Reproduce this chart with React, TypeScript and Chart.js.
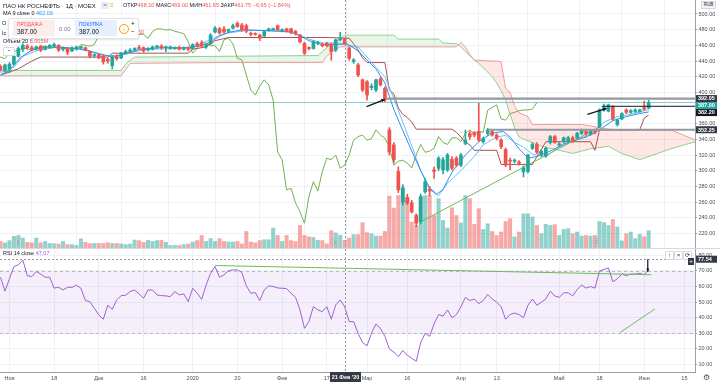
import React, { useEffect, useRef } from "react";
import { Chart, registerables } from "chart.js";

Chart.register(...registerables);

const FONT = "'Liberation Sans', Arial, sans-serif";

// Daily bars, index 0 = 30 Oct 2019 ... index 145 = 2 Jun 2020
const OPEN = [433,428,430,436,446,455,459,457,455,459, 455,458,459,460,455,456,453,455,457,457, 452,447,448,446,442,434,446,444,450,452, 454,457,457,454,455,458,459,457,456,456, 457,455,457,456,462,463,458,462,477,481, 481,478,482,488,486,485,475,475,473,472, 479,480,485,479,481,481,478,473,462.5,457, 456,462,461.5,462.5,461,454,467,468.1,456,439.5, 435,416,413.5,406,403,417,405,352,333,299, 260,266,259,243,235,273,276,301,303,301, 301,314.5,316,307,335,347.5,348.5,350,337,347.5, 350,345.5,339,327,313.5,312,311,298.5,299,328.5, 333.5,320,319,336,343.5,333,337,337.5,342,342, 347.5,350,346.5,350.5,356,377.5,376,381.5,359,366, 377.5,374.5,375.5,375.5,380.5,380];
const HIGH = [435,436,438,448,458,462,461,459,459,460, 459,461,463,461,458,457,458,459,459,458, 453,449,449,448,444,447,448,451,454,456, 457,460,458,457,459,460,461,459,459,458, 459,458,458,462,464,466,462,475,484,483, 484,481,487,490,488,487,477,476,474,478, 482,482,486,481,482,482,479,474,464,458, 466,465,463,464,463,468,476.5,469,458,443, 437,417,415,411,417,419,407,355,336,305, 282,270,262,245,270,290,280,305,318,317, 322,318,318,322,352,350,350,386,343,354, 352,347,341,329,316,315,313,306,321,336, 336,327,330,345,345,336,343,344,344,349, 353,352,352,352,379,385,385,383,366,374, 379,378,379,378.5,389,390];
const LOW = [427,426,425,435,445,452,455,453,454,452, 454,456,457,452,453,448,452,454,455,453, 444,444,443,436,437,430,441,443,449,451, 453,455,451,453,454,456,455,452,455,455, 454,454,453,455,458,457,456,461,476,474, 476,476,481,483,478,476,472,473,466,471, 478,479,479,477,477,475,473,463,448,454, 455,461,458,458,441,452,466,461.65,441,437, 420,401,390,403,401,408,388,320,310,272, 256,257,246,228.5,232,271,268,290,300,296, 299,301,305,305,333,340,343,337,335,345, 344,339,328,305,301,310,307,292,297,327, 322,318,317,334,335,331,335,336,336,341, 346,345,345,347,355,376,375,364,357,365, 373,373,374,374.5,377,379];
const CLOSE = [429,435,436,446,456,460,457,455,458,454, 458,460,461,454,456,451,456,458,457.5,454, 446,447.5,444,439,440,445,443,450,452,454, 456,456,453,456,458,459,457,457.5,458,457, 455,457,455,461,460,459,461,473,482,476, 477,480,485,484,479.5,478,474,474,469,477.5, 481,481,479.5,480,478,476.5,475,464.5,450,456, 464.5,463,459.5,459.5,452,467,469,461.75,443.5,441.5, 422,403,396.5,408,416,409.5,390,324,314,275.5, 277.5,259,247.5,233,267,286,274,299,316,314, 320,303,307,320,339,343.5,345.5,339,341,352, 345.5,341.5,330.5,307,312,313.5,309.5,303.5,320,333.5, 323.5,325,328.5,343.5,336,333.5,342,342,337,347.5, 352,347,350.5,349,377.5,380.5,384,366,364.5,373, 374.5,376.5,377.5,377.5,378.5,387];
// Volume, millions of shares
const VOLUME = [2.3,1.8,2.6,4.1,4.4,3.5,2.0,1.8,3.5,1.8, 2.3,1.6,1.5,1.4,2.3,1.2,1.2,0.9,3.2,2.0, 1.5,1.6,1.6,1.6,1.9,1.6,1.6,1.4,1.2,1.4, 2.8,2.6,2.0,2.7,2.3,2.6,2.7,2.0,0.9,0.9, 0.9,1.2,1.4,2.1,2.6,4.4,2.3,3.3,2.3,3.3, 2.3,2.1,2.1,2.3,1.4,5.8,2.1,1.8,2.6,2.9, 2.9,7.0,4.4,2.3,4.4,2.6,2.3,7.9,4.4,3.9, 3.7,2.7,2.6,1.5,6.1,5.3,4.5,2.7,3.5,4.7, 4.7,8.9,5.4,5.0,4.2,4.2,5.8,18.2,14.0,18.4, 21.4,17.3,9.1,7.9,17.9,18.4,18.4,11.4,17.3,9.7, 7.0,14.1,11.4,8.8,18.4,17.3,8.3,13.8,6.5,8.5, 5.8,4.4,5.6,9.3,10.3,3.9,5.6,12.0,12.0,10.9, 7.9,5.0,8.3,7.9,8.2,4.4,6.5,6.8,5.0,5.6, 4.2,4.4,4.2,4.4,9.3,8.9,7.9,10.0,7.4,2.5, 5.0,5.6,3.3,4.8,3.9,6.1];
// RSI 14
const RSI = [66,57,65,72.8,74,77,67,66.4,69.6,68, 66,66,59,59.5,57.8,59.5,59.5,60.8,58.9,51, 50.3,46,41.8,39,48,45.4,51.4,54.2,54.4,56.8, 57.8,55.3,52.5,57.8,57.8,54.6,54.2,54,53.5,56.8, 54.6,55.3,50.3,58.9,55.7,51.8,61,68.5,72.8,66, 67.5,70.2,70.7,70.7,69,60.4,55.7,56.1,51,57.8, 60.4,60,59.1,58.9,58.7,55.7,53.1,45,33.2,37.5, 47.1,45,43.9,47.1,39,48.2,51.4,47.07,37.5,37.5, 30,24,22,30,36,33,28,20,18,15, 19,16,14,12,24,30,28,36,42,41, 45,40,42,47,53,51,52,49,51,55, 52,50,47,39,42,43,42,40,48,52, 48,50,52,57,54,53,56,56,54,58, 61,59,60,59,70,71,72,63,65,68, 67,68,68,68.5,67.5,71];

// Indicator lines: [bar index, price]
const MA9 = [[0,422],[2,428],[4.4,444],[7.3,455],[11,458],[15,457],[18.5,455],[22.3,449],[25.2,445],[28.3,450],[31.2,455],[35.7,457],[41.7,457],[44.6,459],[46.9,464],[49.1,472],[51.3,477],[54.3,480],[58,479],[62,478],[65,477],[67,472],[69,466],[72,461],[75,461],[77.5,462],[80,453],[82,441],[84,430],[86,412],[88,378],[91,338],[94,300],[96,278],[97.6,270],[99,276],[101,298],[104,320],[107,337],[110,348],[112.5,350],[114,343],[116,328],[118,316],[120,318],[123,325],[126,334],[131,343],[134,352],[137,364],[140,369],[143,373],[145,375]];
const TENKAN = [[0,425],[3,432],[5,446],[8,453],[12,457],[17,456],[20,452],[23,447],[27,447],[30,452],[33,455],[40,456],[44,459],[46,465],[48,470],[50,475],[55,479],[60,479],[64,478],[67,473],[69,468],[72,463],[76,463],[78,460],[80,458],[82,445],[84,432],[86,420],[88,392],[90,362],[92,332],[94,300],[96,276],[98,268],[100,284],[103,300],[106,318],[108,333],[111,343],[113,345],[115,336],[117,330],[119,321],[122,318],[125,330],[129,340],[133,348],[135,362],[138,369],[141,372],[145,378]];
const KIJUN = [[0,422],[4,430],[7,440],[9,445],[24,445],[25,450],[42,450],[43,455],[46,458],[48,466],[51,470],[73,470],[78,469],[79,462],[80,454],[81,444],[82,438],[86,438],[87,403],[88,398],[89,380],[90,372],[91,368],[92,362],[93,353],[101,353],[102,349],[103,343],[104,336],[105,333],[106,326],[111,326],[112,308],[119,308],[120,318],[121,327],[122,337],[132,337],[133,326],[134,352],[143,352],[144,367],[145,371]];
const CLOUD_X = [0,27,28,29,30,50,71,72,73,74,75,76,77,88,89,98,99,102,103,104,105,106,107,110,111,112,113,114,115,116,118,119,121,125,128,130,132,136,139,141,143,146,150,153,155.5];
const SENKOU_A = [428,428,436,441,445,446,447,452,457,462,465,468,473,473,468,468,463,462,458,452,447,441,437,420,412,402,390,372,355,343,338,336,331,326,322,325,328,331,322,318,314,320,328,333,337];
const SENKOU_B = [421,421,429,437,437,438,438,438,446,451,455,458,458,458,458,458,458,458,464,458,448,441,441,440,440,439,405,400,383,374,369,359,359,359,359,359,357,353,352,352,352,352,352,345,339];
const CHIKOU_SHIFT = 25;

// Drawings
const LAST_PRICE = 387.0;
const LEVEL_VALUES = [392.05, 382.2, 352.25];
const LEVEL_FROM = [86.5, 134.5, 109];
const AXIS_LABELS = [392.05, 387.0, 382.2, 352.25];
const PRICE_ARROWS = [[81.9, 381.7, 86, 391.1], [131.3, 371.9, 135.6, 379.5]];
const PRICE_TREND = [[93.9, 234.5], [134, 355.7]];
const RSI_TREND_DOWN = [[48, 73.5], [145.6, 67.6]];
const RSI_TREND_UP = [[138.6, 30.5], [146.4, 45.6]];
const RSI_ARROW = [144.8, 77.5, 144.8, 69.5];
const RSI_BAND = [30, 70];
const EVENT_BARS = [4, 75, 133.4];
const CROSS_IDX = 77;
const CROSS_RSI = 77.54;
const CROSS_DATE = "21 Фев '20";

const TICK_IDX = [2, 12, 22, 32, 43, 53, 63, 73, 82, 91, 103, 111, 125, 134, 144, 153];
const TICK_LABELS = ["Ноя", "18", "Дек", "16", "2020", "20", "Фев", "17", "Мар", "16", "Апр", "13", "Май", "18", "Июн", "15"];
const PRICE_TICKS = [220, 240, 260, 280, 300, 320, 340, 360, 400, 420, 440, 460, 480, 500];
const RSI_TICKS = [10, 20, 30, 40, 50, 60, 70, 80];

const X_MIN = -0.11;
const X_MAX = 155.37;
const P_MIN = 201.3;
const P_MAX = 517.87;
const R_MIN = 5.15;
const R_MAX = 84.1;
const VOL_MAX = 87;

const UP = "#26a69a";
const DN = "#ef5350";
const GRID = "#eef1f6";
const AXIS = "#9aa0ab";
const TXT = "#4a4e59";

const pts = (arr: number[][]) => arr.map(([x, y]) => ({ x, y }));

function arrow(ctx: CanvasRenderingContext2D, x1: number, y1: number, x2: number, y2: number, head: number) {
  const ang = Math.atan2(y2 - y1, x2 - x1);
  ctx.beginPath();
  ctx.moveTo(x1, y1);
  ctx.lineTo(x2, y2);
  ctx.stroke();
  ctx.beginPath();
  ctx.moveTo(x2, y2);
  ctx.lineTo(x2 - head * Math.cos(ang - 0.45), y2 - head * Math.sin(ang - 0.45));
  ctx.lineTo(x2 - head * Math.cos(ang + 0.45), y2 - head * Math.sin(ang + 0.45));
  ctx.closePath();
  ctx.fill();
}

function axisBox(ctx: CanvasRenderingContext2D, left: number, yc: number, text: string, bg: string) {
  ctx.fillStyle = bg;
  ctx.fillRect(left + 1, yc - 3.5, 21, 7);
  ctx.fillStyle = "#ffffff";
  ctx.font = `bold 5.5px ${FONT}`;
  ctx.textAlign = "left";
  ctx.textBaseline = "middle";
  ctx.fillText(text, left + 3, yc + 0.3);
}

const xTicksHook = (s: any) => {
  s.ticks = TICK_IDX.map((v) => ({ value: v }));
};

export default function App() {
  const priceRef = useRef<HTMLCanvasElement>(null);
  const rsiRef = useRef<HTMLCanvasElement>(null);

  useEffect(() => {
    const candleColors = CLOSE.map((c, i) => (c >= OPEN[i] ? UP : DN));
    const volColors = CLOSE.map((c, i) => (c >= OPEN[i] ? "rgba(38,166,154,0.5)" : "rgba(239,83,80,0.5)"));

    const priceOverlay = {
      id: "priceOverlay",
      afterDatasetsDraw(chart: any) {
        const { ctx, chartArea: a, scales } = chart;
        const x = scales.x, y = scales.y, vol = scales.vol;
        ctx.save();
        ctx.beginPath();
        ctx.rect(a.left, a.top, a.right - a.left, a.bottom - a.top);
        ctx.clip();
        const yc = y.getPixelForValue(LAST_PRICE);
        ctx.strokeStyle = "rgba(38,166,154,0.55)";
        ctx.lineWidth = 1;
        ctx.beginPath();
        ctx.moveTo(a.left, yc);
        ctx.lineTo(a.right, yc);
        ctx.stroke();
        const lvlStyle = [
          { c: "#9598a1", w: 2.2 },
          { c: "#131722", w: 1 },
          { c: "#9598a1", w: 2.2 },
        ];
        LEVEL_VALUES.forEach((v, i) => {
          const py = y.getPixelForValue(v);
          ctx.strokeStyle = lvlStyle[i].c;
          ctx.lineWidth = lvlStyle[i].w;
          ctx.beginPath();
          ctx.moveTo(x.getPixelForValue(LEVEL_FROM[i]), py);
          ctx.lineTo(a.right, py);
          ctx.stroke();
        });
        ctx.strokeStyle = "#131722";
        ctx.fillStyle = "#131722";
        ctx.lineWidth = 1.4;
        PRICE_ARROWS.forEach(([x1, y1, x2, y2]) => {
          arrow(ctx, x.getPixelForValue(x1), y.getPixelForValue(y1), x.getPixelForValue(x2), y.getPixelForValue(y2), 4);
        });
        ctx.strokeStyle = "#b8bcc6";
        ctx.lineWidth = 1;
        ctx.fillStyle = "#9aa0ab";
        ctx.font = `4.5px ${FONT}`;
        ctx.textAlign = "center";
        ctx.textBaseline = "middle";
        EVENT_BARS.forEach((b) => {
          const ex = x.getPixelForValue(b);
          const ey = vol.getPixelForValue(0) - 6;
          ctx.beginPath();
          ctx.arc(ex, ey, 4, 0, Math.PI * 2);
          ctx.stroke();
          ctx.fillText("E", ex, ey + 0.3);
        });
        ctx.strokeStyle = "#9598a1";
        ctx.lineWidth = 1;
        ctx.setLineDash([2, 2]);
        const cx = Math.round(x.getPixelForValue(CROSS_IDX)) + 0.5;
        ctx.beginPath();
        ctx.moveTo(cx, a.top);
        ctx.lineTo(cx, a.bottom);
        ctx.stroke();
        ctx.setLineDash([]);
        ctx.restore();
        ctx.save();
        const bgs = ["#363a45", UP, "#131722", "#363a45"];
        const ys = AXIS_LABELS.map((v) => y.getPixelForValue(v));
        for (let i = 1; i < ys.length; i++) if (ys[i] < ys[i - 1] + 7) ys[i] = ys[i - 1] + 7;
        AXIS_LABELS.forEach((v, i) => axisBox(ctx, a.right, ys[i], v.toFixed(2), bgs[i]));
        ctx.restore();
      },
    };

    const rsiOverlay = {
      id: "rsiOverlay",
      beforeDatasetsDraw(chart: any) {
        const { ctx, chartArea: a, scales } = chart;
        const y = scales.y;
        const yTop = y.getPixelForValue(RSI_BAND[1]);
        const yBot = y.getPixelForValue(RSI_BAND[0]);
        ctx.save();
        ctx.fillStyle = "rgba(156,96,214,0.10)";
        ctx.fillRect(a.left, yTop, a.right - a.left, yBot - yTop);
        ctx.strokeStyle = "#b4b8c2";
        ctx.lineWidth = 1;
        ctx.setLineDash([3, 3]);
        [yTop, yBot].forEach((py) => {
          ctx.beginPath();
          ctx.moveTo(a.left, Math.round(py) + 0.5);
          ctx.lineTo(a.right, Math.round(py) + 0.5);
          ctx.stroke();
        });
        ctx.restore();
      },
      afterDatasetsDraw(chart: any) {
        const { ctx, chartArea: a, scales } = chart;
        const x = scales.x, y = scales.y;
        ctx.save();
        ctx.beginPath();
        ctx.rect(a.left, a.top, a.right - a.left, a.bottom - a.top);
        ctx.clip();
        ctx.strokeStyle = "#9598a1";
        ctx.lineWidth = 1;
        ctx.setLineDash([2, 2]);
        const cx = Math.round(x.getPixelForValue(CROSS_IDX)) + 0.5;
        const cy = Math.round(y.getPixelForValue(CROSS_RSI)) + 0.5;
        ctx.beginPath();
        ctx.moveTo(cx, a.top);
        ctx.lineTo(cx, a.bottom);
        ctx.moveTo(a.left, cy);
        ctx.lineTo(a.right, cy);
        ctx.stroke();
        ctx.setLineDash([]);
        ctx.strokeStyle = "#131722";
        ctx.fillStyle = "#131722";
        ctx.lineWidth = 1.2;
        const [ax1, ay1, ax2, ay2] = RSI_ARROW;
        arrow(ctx, x.getPixelForValue(ax1), y.getPixelForValue(ay1), x.getPixelForValue(ax2), y.getPixelForValue(ay2), 3.5);
        ctx.restore();
        ctx.save();
        axisBox(ctx, a.right, y.getPixelForValue(CROSS_RSI), CROSS_RSI.toFixed(2), "#363a45");
        const w = 31;
        ctx.fillStyle = "#363a45";
        ctx.fillRect(cx - w / 2, a.bottom, w, 10);
        ctx.fillStyle = "#ffffff";
        ctx.font = `bold 5.5px ${FONT}`;
        ctx.textAlign = "center";
        ctx.textBaseline = "middle";
        ctx.fillText(CROSS_DATE, cx, a.bottom + 5.5);
        ctx.restore();
      },
    };

    const noPad = (s: any) => {
      s.paddingTop = 0;
      s.paddingBottom = 0;
      s.paddingLeft = 0;
      s.paddingRight = 0;
    };

    const yAxisCommon = (ticksArr: number[]) => ({
      type: "linear" as const,
      position: "right" as const,
      afterBuildTicks: (s: any) => {
        s.ticks = ticksArr.map((v) => ({ value: v }));
      },
      afterFit: (s: any) => {
        s.width = 25;
        noPad(s);
      },
      ticks: {
        callback: (v: any) => Number(v).toFixed(2),
        font: { size: 5.5, family: FONT },
        color: TXT,
        padding: 1.5,
        autoSkip: false,
      },
      grid: { color: GRID, tickLength: 2, tickColor: AXIS },
      border: { display: true, color: AXIS },
    });

    const lineDs = (data: any[], color: string, extra: any = {}) => ({
      type: "line" as const,
      data,
      borderColor: color,
      borderWidth: 1,
      pointRadius: 0,
      tension: 0,
      fill: false,
      yAxisID: "y",
      ...extra,
    });

    const priceChart = new Chart(priceRef.current as HTMLCanvasElement, {
      type: "bar",
      data: {
        datasets: [
          {
            type: "bar",
            yAxisID: "vol",
            data: VOLUME.map((v, i) => ({ x: i, y: v })),
            backgroundColor: volColors,
            barThickness: 3.4,
            grouped: false,
            order: 30,
          } as any,
          lineDs(CLOUD_X.map((x, i) => ({ x, y: SENKOU_B[i] })), "#f2a0a0", { order: 25 }),
          lineDs(CLOUD_X.map((x, i) => ({ x, y: SENKOU_A[i] })), "#8fd18f", {
            order: 24,
            fill: { target: 1, above: "rgba(76,175,80,0.13)", below: "rgba(244,67,54,0.13)" },
          }),
          lineDs(CLOSE.map((c, i) => ({ x: i - CHIKOU_SHIFT, y: c })), "#72b04d", { order: 20 }),
          lineDs(pts(KIJUN), "#a65252", { order: 19 }),
          lineDs(pts(TENKAN), "#6ec1f2", { order: 18 }),
          lineDs(pts(MA9), "#2f8ff0", { order: 17 }),
          lineDs(pts(PRICE_TREND), "#6dbb5a", { order: 16 }),
          {
            type: "bar",
            yAxisID: "y",
            data: CLOSE.map((_, i) => ({ x: i, y: [LOW[i], HIGH[i]] })),
            backgroundColor: candleColors,
            barThickness: 1,
            grouped: false,
            order: 2,
          } as any,
          {
            type: "bar",
            yAxisID: "y",
            data: CLOSE.map((c, i) => ({ x: i, y: [OPEN[i], c] })),
            backgroundColor: candleColors,
            barThickness: 3,
            minBarLength: 1,
            grouped: false,
            order: 1,
          } as any,
        ],
      },
      options: {
        responsive: false,
        animation: false,
        events: [],
        layout: { padding: 0 },
        plugins: { legend: { display: false }, tooltip: { enabled: false } },
        scales: {
          x: {
            type: "linear",
            min: X_MIN,
            max: X_MAX,
            offset: false,
            afterBuildTicks: xTicksHook,
            afterFit: (s: any) => {
              s.height = 0;
              noPad(s);
            },
            ticks: { display: false },
            grid: { color: GRID, drawTicks: false },
            border: { display: false },
          },
          y: { ...yAxisCommon(PRICE_TICKS), min: P_MIN, max: P_MAX },
          vol: { type: "linear", display: false, min: 0, max: VOL_MAX },
        },
      } as any,
      plugins: [priceOverlay],
    });

    const rsiChart = new Chart(rsiRef.current as HTMLCanvasElement, {
      type: "line",
      data: {
        datasets: [
          lineDs(RSI.map((v, i) => ({ x: i, y: v })), "#a05fd0", { order: 3 }),
          lineDs(pts(RSI_TREND_DOWN), "#6dbb5a", { order: 2 }),
          lineDs(pts(RSI_TREND_UP), "#6dbb5a", { order: 1 }),
        ],
      },
      options: {
        responsive: false,
        animation: false,
        events: [],
        layout: { padding: 0 },
        plugins: { legend: { display: false }, tooltip: { enabled: false } },
        scales: {
          x: {
            type: "linear",
            min: X_MIN,
            max: X_MAX,
            offset: false,
            afterBuildTicks: xTicksHook,
            afterFit: (s: any) => {
              s.height = 12;
              noPad(s);
            },
            ticks: {
              autoSkip: false,
              maxRotation: 0,
              padding: 3,
              font: { size: 5.5, family: FONT },
              color: TXT,
              callback: (v: any) => {
                const k = TICK_IDX.indexOf(Number(v));
                return k >= 0 ? TICK_LABELS[k] : "";
              },
            },
            grid: { color: GRID, drawTicks: false },
            border: { display: true, color: AXIS },
          },
          y: { ...yAxisCommon(RSI_TICKS), min: R_MIN, max: R_MAX },
        },
      } as any,
      plugins: [rsiOverlay],
    });

    return () => {
      priceChart.destroy();
      rsiChart.destroy();
    };
  }, []);

  const t = (style: React.CSSProperties): React.CSSProperties => ({
    position: "absolute",
    whiteSpace: "nowrap",
    fontFamily: FONT,
    lineHeight: 1,
    ...style,
  });
  const lab = { color: "#131722" };
  const val = { color: DN };

  return (
    <div style={{ position: "fixed", left: 0, top: 0, width: 720, height: 384, background: "#ffffff", overflow: "hidden" }}>
      <canvas ref={priceRef} width={720} height={248} style={{ position: "absolute", left: 0, top: 0 }} />
      <div style={{ position: "absolute", left: 0, top: 248, width: 720, height: 1, background: "#d6d9e0" }} />
      <canvas ref={rsiRef} width={720} height={135} style={{ position: "absolute", left: 0, top: 249 }} />

      <div style={t({ left: 3, top: 3, fontSize: 6, color: "#131722" })}>ПАО НК РОСНЕФТЬ · 1Д · MOEX</div>
      <div style={t({ left: 101, top: 1.5, width: 8, height: 7, background: "#e9ecf2", borderRadius: 1, fontSize: 6, color: "#787b86", textAlign: "center" })}>=</div>
      <div style={t({ left: 110, top: 2, fontSize: 6, color: "#ff9800" })}>≡</div>
      <div style={t({ left: 123, top: 3, fontSize: 5.5 })}>
        <span style={lab}>ОТКР</span><span style={val}>468.10</span>{" "}
        <span style={lab}>МАКС</span><span style={val}>469.00</span>{" "}
        <span style={lab}>МИН</span><span style={val}>461.65</span>{" "}
        <span style={lab}>ЗАКР</span><span style={val}>461.75</span>{" "}
        <span style={val}>−6.65 (−1.84%)</span>
      </div>
      <div style={t({ left: 3, top: 11, fontSize: 5.5, color: "#131722" })}>
        MA 9 close 0 <span style={{ color: "#2f8ff0" }}>462.03</span>
      </div>
      <div style={t({ left: 2, top: 21, fontSize: 5.5, color: "#131722" })}>O</div>
      <div style={t({ left: 2, top: 31, fontSize: 5.5, color: "#131722" })}>Ic</div>
      <div style={t({ left: 138, top: 30, fontSize: 5.5, color: DN })}>60</div>
      <div
        style={{
          position: "absolute", left: 8, top: 18, width: 129, height: 19, background: "#ffffff",
          border: "1px solid #e0e3eb", borderRadius: 2, boxShadow: "0 1px 2px rgba(0,0,0,0.12)",
        }}
      >
        <div style={{ position: "absolute", left: 4, top: 1, width: 42, height: 16, background: "#fdecec", borderRadius: 1 }} />
        <div style={{ position: "absolute", left: 66, top: 1, width: 42, height: 16, background: "#e6f0fd", borderRadius: 1 }} />
        <div style={t({ left: 8, top: 3, fontSize: 5, color: DN })}>ПРОДАЖА</div>
        <div style={t({ left: 8, top: 10, fontSize: 6.5, color: "#131722" })}>387.00</div>
        <div style={t({ left: 50, top: 7, fontSize: 6, color: "#787b86" })}>0.00</div>
        <div style={t({ left: 70, top: 3, fontSize: 5, color: "#2962ff" })}>ПОКУПКА</div>
        <div style={t({ left: 70, top: 10, fontSize: 6.5, color: "#131722" })}>387.00</div>
        <div style={t({ left: 110, top: 4.5, width: 8, height: 8, borderRadius: 5, border: "1px solid #ff9800", color: "#ff9800", fontSize: 5.5, textAlign: "center", lineHeight: "8px" })}>i</div>
        <div style={t({ left: 122, top: 2, fontSize: 6.5, color: "#131722" })}>+</div>
        <div style={t({ left: 122, top: 10, fontSize: 6.5, color: "#131722" })}>−</div>
      </div>
      <div style={t({ left: 3, top: 39, fontSize: 5.5, color: "#131722" })}>
        Объем 20 <span style={{ color: DN }}>6.005M</span>
      </div>
      <div style={t({ left: 3, top: 47, width: 10, height: 7, border: "1px solid #d6d9e0", borderRadius: 1, background: "#fff", fontSize: 6, color: "#131722", textAlign: "center", lineHeight: "9px" })}>ˆ</div>

      <div style={t({ left: 701, top: 1, width: 13, height: 6, border: "1px solid #d6d9e0", background: "#f4f5f8", fontSize: 4.5, color: "#131722", textAlign: "center", lineHeight: "6px" })}>RUB</div>

      <div style={t({ left: 3, top: 251, fontSize: 5.5, color: "#131722" })}>
        RSI 14 close <span style={{ color: "#a05fd0" }}>47.07</span>
      </div>
      {["↑", "×", "⟳"].map((s, i) => (
        <div key={s} style={t({ left: 665 + i * 9, top: 250.5, width: 7, height: 7, border: "1px solid #d6d9e0", borderRadius: 1, background: "#fff", fontSize: 5.5, color: "#131722", textAlign: "center", lineHeight: "7px" })}>{s}</div>
      ))}
      <div style={t({ left: 688, top: 258, width: 6, height: 7, background: "#363a45", fontSize: 6, color: "#fff", textAlign: "center", lineHeight: "7px" })}>+</div>
      <div style={t({ left: 703, top: 374, fontSize: 8, color: "#4a4e59" })}>⚙</div>
    </div>
  );
}
